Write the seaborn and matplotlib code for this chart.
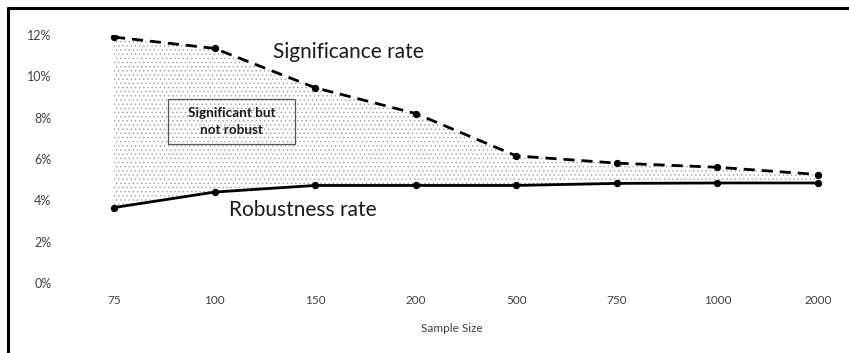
import numpy as np
import pandas as pd
import seaborn as sns
from matplotlib import pyplot as plt
from matplotlib.lines import Line2D
from matplotlib.patches import Rectangle
from matplotlib.ticker import PercentFormatter

sample_sizes = ["75", "100", "150", "200", "500", "750", "1000", "2000"]
significance = [11.9, 11.35, 9.45, 8.2, 6.15, 5.8, 5.6, 5.25]
robustness = [3.65, 4.4, 4.72, 4.72, 4.72, 4.82, 4.84, 4.84]

sns.set_theme(style="white")
plt.rcParams["font.family"] = ["Lato", "DejaVu Sans"]

df = pd.DataFrame({
    "Sample Size": sample_sizes,
    "Significance": significance,
    "Robustness": robustness,
})

fig = plt.figure(figsize=(8.49, 3.53), dpi=100)
ax = fig.add_axes([64 / 849, 70 / 353, 776 / 849, 248 / 353])

sns.lineplot(data=df, x="Sample Size", y="Significance", ax=ax, color="black",
             linestyle=(0, (4, 2.5)), linewidth=2, marker="o", markersize=4.5,
             markeredgecolor="black", sort=False)
sns.lineplot(data=df, x="Sample Size", y="Robustness", ax=ax, color="black",
             linewidth=2, marker="o", markersize=4.5, markeredgecolor="black",
             sort=False)

pos = np.arange(len(sample_sizes))
plt.rcParams["hatch.linewidth"] = 0.5
ax.fill_between(pos, robustness, significance, facecolor="none",
                edgecolor="#a0a0a0", hatch="....", linewidth=0, zorder=0)

ax.set_xlim(-(114 - 64) / 100.57, 7 + (840 - 818) / 100.57)
ax.set_ylim(0, 12)
ax.set_yticks([0, 2, 4, 6, 8, 10, 12])
ax.yaxis.set_major_formatter(PercentFormatter(decimals=0))
ax.tick_params(axis="both", labelsize=8.5, colors="#404040", length=0)
ax.tick_params(axis="y", labelsize=9, pad=9)
ax.tick_params(axis="x", pad=9)
ax.set_xlabel("Sample Size", fontsize=8.5, color="#404040", labelpad=12)
ax.set_ylabel("")
sns.despine(ax=ax, left=True, bottom=True)

ax.text(1.58, 11.2, "Significance rate", fontsize=15, color="#1a1a1a",
        ha="left", va="center")
ax.text(1.14, 3.55, "Robustness rate", fontsize=15, color="#1a1a1a",
        ha="left", va="center")

# label box: outline only, the dots show through
ax.add_patch(Rectangle((0.537, 6.72), 1.263, 2.18, facecolor="none",
                       edgecolor="#555555", linewidth=0.9, zorder=3))
ax.text(1.168, 7.81, "Significant but\nnot robust", fontsize=9.7,
        fontweight="bold", color="#1a1a1a", ha="center", va="center",
        linespacing=1.5, zorder=4)

fig.add_artist(Line2D([8 / 849, 1], [1 - 8 / 353, 1 - 8 / 353],
                      transform=fig.transFigure, color="black", linewidth=2.2))
fig.add_artist(Line2D([8 / 849, 8 / 849], [0, 1 - 8 / 353],
                      transform=fig.transFigure, color="black", linewidth=2.2))

fig.savefig("out.png", dpi=100)
